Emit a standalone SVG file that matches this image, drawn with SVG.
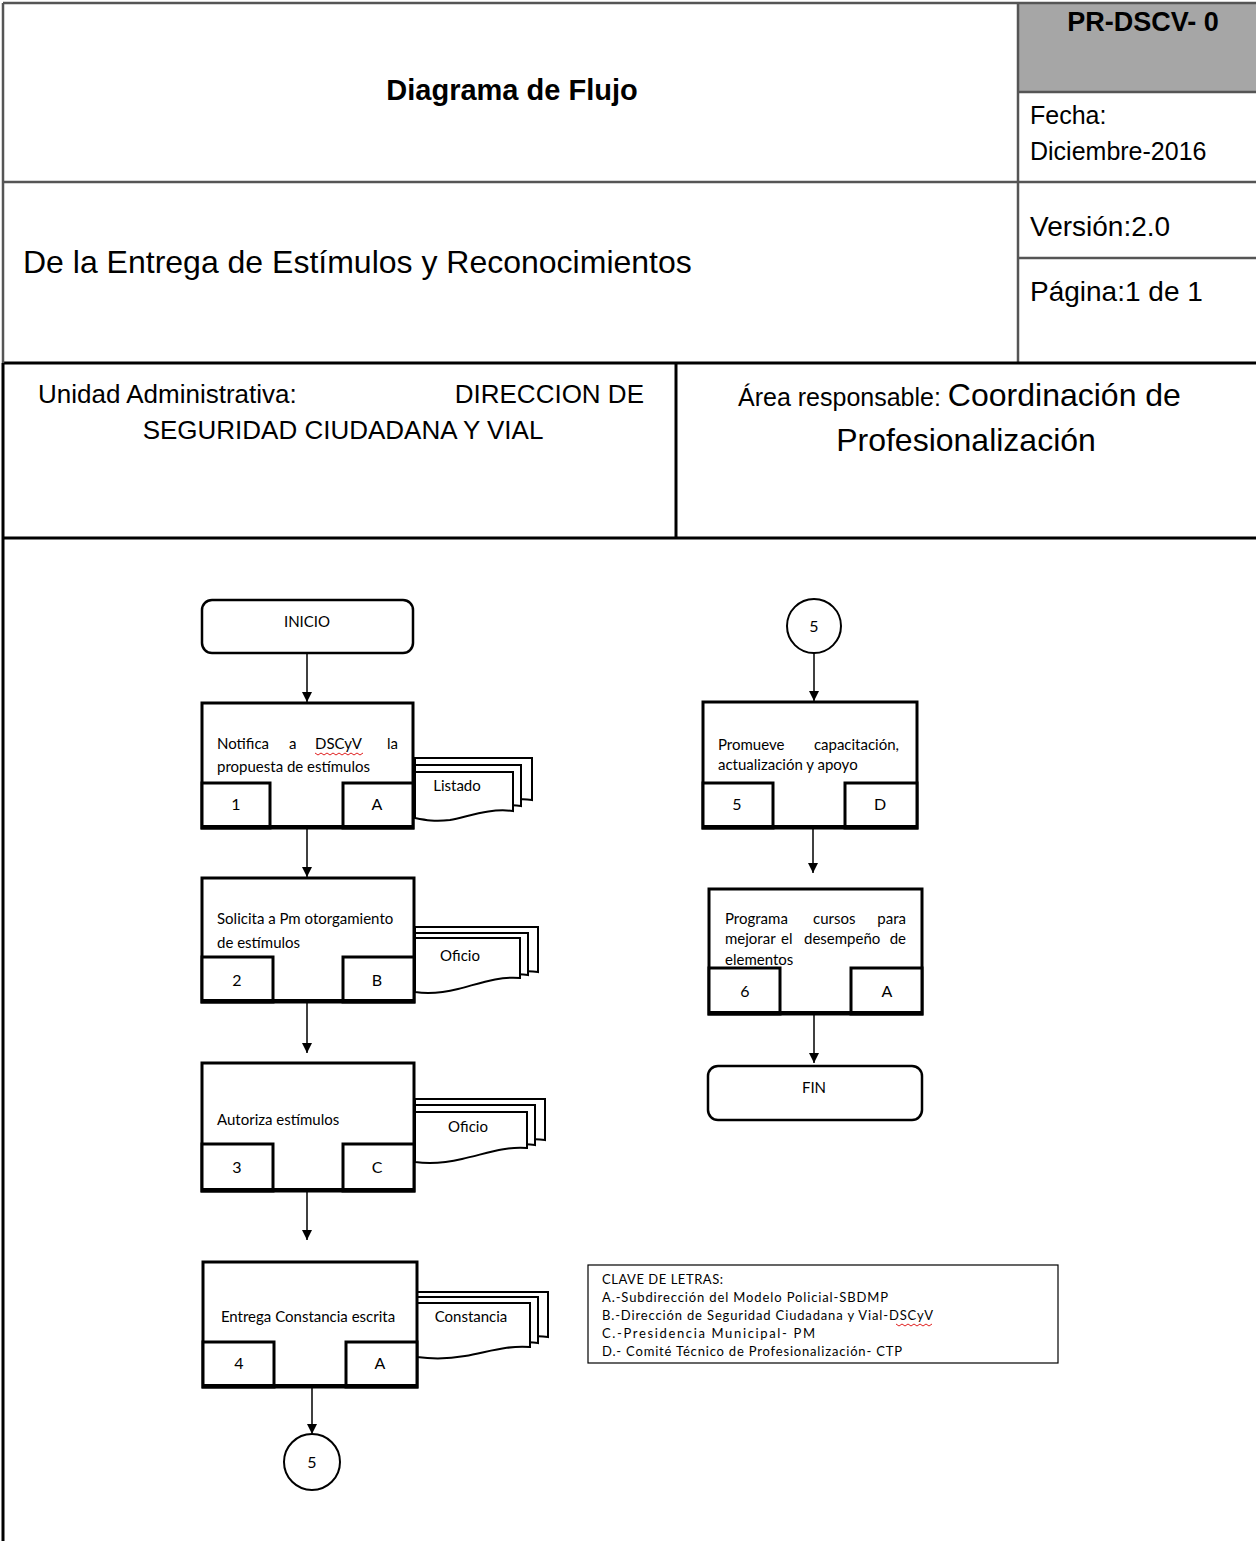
<svg xmlns="http://www.w3.org/2000/svg" width="1256" height="1541" viewBox="0 0 1256 1541">
<defs>
<style>
.hl{stroke:#555;stroke-width:2.5;fill:none}
.hk{stroke:#000;stroke-width:3;fill:none}
.ar{font-family:"Liberation Sans",Arial,sans-serif;fill:#000}
.b{font-weight:bold}
.fc{font-family:Lato,"Open Sans",sans-serif;fill:#000;font-size:15px}
.num{font-family:Lato,"Open Sans",sans-serif;fill:#000;font-size:16px;text-anchor:middle}
.box{fill:#fff;stroke:#000;stroke-width:3}
.sub{fill:#fff;stroke:#000;stroke-width:3}
.term{fill:#fff;stroke:#000;stroke-width:2.5}
.doc{fill:#fff;stroke:#000;stroke-width:2}
.con{stroke:#000;stroke-width:1.5;fill:none}
.circ{fill:#fff;stroke:#000;stroke-width:2}
.sq{stroke:#e02020;stroke-width:1;fill:none}
.lg{font-family:Lato,"Open Sans",sans-serif;fill:#000;font-size:13px}
</style>
<marker id="ah" viewBox="0 0 10 10" refX="10" refY="5" markerWidth="10" markerHeight="10" markerUnits="userSpaceOnUse" orient="auto">
<path d="M0,0 L10,5 L0,10 Z" fill="#000"/>
</marker>
</defs>
<rect width="1256" height="1541" fill="#fff"/>

<g id="header">
<rect x="1018" y="3" width="238" height="89" fill="#a6a6a6"/>
<line class="hl" x1="3" y1="3" x2="1256" y2="3"/>
<line class="hl" x1="1018" y1="92" x2="1256" y2="92"/>
<line class="hl" x1="3" y1="182" x2="1256" y2="182"/>
<line class="hl" x1="1018" y1="258" x2="1256" y2="258"/>
<line class="hl" x1="1018" y1="3" x2="1018" y2="363"/>
<line class="hk" x1="3" y1="363" x2="1256" y2="363"/>
<line class="hk" x1="676" y1="363" x2="676" y2="538"/>
<line class="hk" x1="3" y1="538" x2="1256" y2="538"/>
<line class="hl" x1="3" y1="3" x2="3" y2="363"/>
<line class="hk" x1="3" y1="363" x2="3" y2="1541"/>
<text class="ar b" x="512" y="100" font-size="29" text-anchor="middle">Diagrama de Flujo</text>
<text class="ar b" x="1143" y="31" font-size="27" text-anchor="middle">PR-DSCV- 0</text>
<text class="ar" x="1030" y="124" font-size="25">Fecha:</text>
<text class="ar" x="1030" y="160" font-size="25">Diciembre-2016</text>
<text class="ar" x="1030" y="236" font-size="28">Versión:2.0</text>
<text class="ar" x="1030" y="301" font-size="28">Página:1 de 1</text>
<text class="ar" x="23" y="273" font-size="32">De la Entrega de Estímulos y Reconocimientos</text>
<text class="ar" x="38" y="403" font-size="26">Unidad Administrativa:</text>
<text class="ar" x="644" y="403" font-size="26" text-anchor="end">DIRECCION DE</text>
<text class="ar" x="343" y="439" font-size="26" text-anchor="middle">SEGURIDAD CIUDADANA Y VIAL</text>
<text class="ar" x="738" y="406" font-size="25">Área responsable: <tspan font-size="32">Coordinación de</tspan></text>
<text class="ar" x="966" y="451" font-size="32" text-anchor="middle">Profesionalización</text>
</g>

<g id="connectors">
<line class="con" x1="307" y1="653" x2="307" y2="702" marker-end="url(#ah)"/>
<line class="con" x1="307" y1="828" x2="307" y2="877" marker-end="url(#ah)"/>
<line class="con" x1="307" y1="1002" x2="307" y2="1053" marker-end="url(#ah)"/>
<line class="con" x1="307" y1="1191" x2="307" y2="1240" marker-end="url(#ah)"/>
<line class="con" x1="312" y1="1387" x2="312" y2="1434" marker-end="url(#ah)"/>
<line class="con" x1="814" y1="653" x2="814" y2="701" marker-end="url(#ah)"/>
<line class="con" x1="813" y1="828" x2="813" y2="873" marker-end="url(#ah)"/>
<line class="con" x1="814" y1="1014" x2="814" y2="1063" marker-end="url(#ah)"/>
</g>

<g id="inicio">
<rect class="term" x="202" y="600" width="211" height="53" rx="10"/>
<text class="fc" x="307" y="627" text-anchor="middle">INICIO</text>
</g>

<g id="paso1">
<path class="doc" d="M415,758 H532 V800 C520,798 515,800 505,802 L415,810 Z"/>
<path class="doc" d="M415,765 H521 V806 C510,804 505,806 495,808 L415,815 Z"/>
<path class="doc" d="M415,772 H513 V811 C490,808 470,816 450,820 C435,822 425,820 415,818 Z"/>
<text class="fc" x="457" y="791" text-anchor="middle" font-size="13.5">Listado</text>
<rect class="box" x="202" y="703" width="211" height="125"/>
<rect class="sub" x="202" y="783" width="68" height="45"/>
<rect class="sub" x="343" y="783" width="70" height="45"/>
<line x1="202" y1="827" x2="413" y2="827" stroke="#000" stroke-width="4"/>
<text class="fc" y="749"><tspan x="217">Notifica</tspan><tspan x="289">a</tspan><tspan x="315">DSCyV</tspan></text>
<text class="fc" x="398" y="749" text-anchor="end">la</text>
<path class="sq" d="M315,753 l3,2 l3,-2 l3,2 l3,-2 l3,2 l3,-2 l3,2 l3,-2 l3,2 l3,-2 l3,2 l3,-2 l3,2 l3,-2 l3,2 l3,-2"/>
<text class="fc" x="217" y="772">propuesta de estímulos</text>
<text class="num" x="236" y="810">1</text>
<text class="num" x="377" y="810">A</text>
</g>

<g id="paso2">
<path class="doc" d="M415,927 H538 V972 C525,970 518,972 508,975 L415,985 Z"/>
<path class="doc" d="M415,933 H528 V975 C516,973 510,975 500,978 L415,988 Z"/>
<path class="doc" d="M415,938 H520 V978 C498,976 478,984 458,989 C442,993 428,994 415,992 Z"/>
<text class="fc" x="460" y="961" text-anchor="middle" font-size="13.5">Oficio</text>
<rect class="box" x="202" y="878" width="212" height="124"/>
<rect class="sub" x="202" y="957" width="71" height="45"/>
<rect class="sub" x="343" y="957" width="71" height="45"/>
<line x1="202" y1="1001" x2="414" y2="1001" stroke="#000" stroke-width="4"/>
<text class="fc" x="217" y="924">Solicita a Pm otorgamiento</text>
<text class="fc" x="217" y="948">de estímulos</text>
<text class="num" x="237" y="986">2</text>
<text class="num" x="377" y="986">B</text>
</g>

<g id="paso3">
<path class="doc" d="M415,1099 H545 V1140 C532,1138 525,1140 515,1143 L415,1152 Z"/>
<path class="doc" d="M415,1105 H535 V1145 C523,1143 516,1145 506,1148 L415,1157 Z"/>
<path class="doc" d="M415,1112 H527 V1148 C505,1146 485,1154 462,1159 C445,1163 430,1164 415,1162 Z"/>
<text class="fc" x="468" y="1132" text-anchor="middle" font-size="13.5">Oficio</text>
<rect class="box" x="202" y="1063" width="212" height="128"/>
<rect class="sub" x="202" y="1144" width="71" height="47"/>
<rect class="sub" x="343" y="1144" width="71" height="47"/>
<line x1="202" y1="1190" x2="414" y2="1190" stroke="#000" stroke-width="4"/>
<text class="fc" x="217" y="1125">Autoriza estímulos</text>
<text class="num" x="237" y="1173">3</text>
<text class="num" x="377" y="1173">C</text>
</g>

<g id="paso4">
<path class="doc" d="M417,1292 H548 V1337 C535,1335 528,1337 518,1340 L417,1349 Z"/>
<path class="doc" d="M417,1297 H538 V1343 C526,1341 519,1343 509,1346 L417,1354 Z"/>
<path class="doc" d="M417,1303 H530 V1347 C508,1345 488,1352 465,1356 C448,1359 432,1359 417,1357 Z"/>
<text class="fc" x="471" y="1322" text-anchor="middle" font-size="13">Constancia</text>
<rect class="box" x="203" y="1262" width="214" height="125"/>
<rect class="sub" x="203" y="1342" width="71" height="45"/>
<rect class="sub" x="346" y="1342" width="71" height="45"/>
<line x1="203" y1="1386" x2="417" y2="1386" stroke="#000" stroke-width="4"/>
<text class="fc" x="308" y="1322" text-anchor="middle">Entrega Constancia escrita</text>
<text class="num" x="239" y="1369">4</text>
<text class="num" x="380" y="1369">A</text>
</g>

<g id="conector5a">
<circle class="circ" cx="312" cy="1462" r="28"/>
<text class="num" x="312" y="1468">5</text>
</g>

<g id="conector5b">
<circle class="circ" cx="814" cy="626" r="27"/>
<text class="num" x="814" y="632">5</text>
</g>

<g id="paso5">
<rect class="box" x="703" y="702" width="214" height="126"/>
<rect class="sub" x="703" y="783" width="70" height="45"/>
<rect class="sub" x="845" y="783" width="72" height="45"/>
<line x1="703" y1="827" x2="917" y2="827" stroke="#000" stroke-width="4"/>
<text class="fc" x="718" y="750">Promueve</text>
<text class="fc" x="899" y="750" text-anchor="end">capacitación,</text>
<text class="fc" x="718" y="770">actualización y apoyo</text>
<text class="num" x="737" y="810">5</text>
<text class="num" x="880" y="810">D</text>
</g>

<g id="paso6">
<rect class="box" x="709" y="889" width="213" height="125"/>
<rect class="sub" x="709" y="968" width="71" height="46"/>
<rect class="sub" x="851" y="968" width="71" height="46"/>
<line x1="709" y1="1013" x2="922" y2="1013" stroke="#000" stroke-width="4"/>
<text class="fc" x="725" y="924">Programa</text>
<text class="fc" x="813" y="924">cursos</text>
<text class="fc" x="906" y="924" text-anchor="end">para</text>
<text class="fc" y="944"><tspan x="725">mejorar</tspan><tspan x="781">el</tspan><tspan x="804">desempeño</tspan></text>
<text class="fc" x="906" y="944" text-anchor="end">de</text>
<text class="fc" x="725" y="965">elementos</text>
<text class="num" x="745" y="997">6</text>
<text class="num" x="887" y="997">A</text>
</g>

<g id="fin">
<rect class="term" x="708" y="1066" width="214" height="54" rx="10"/>
<text class="fc" x="814" y="1093" text-anchor="middle">FIN</text>
</g>

<g id="clave">
<rect x="588" y="1265" width="470" height="98" fill="#fff" stroke="#000" stroke-width="1.2"/>
<text class="lg" x="602" y="1284" textLength="121" lengthAdjust="spacing">CLAVE DE LETRAS:</text>
<text class="lg" x="602" y="1302" textLength="286" lengthAdjust="spacing">A.-Subdirección del Modelo Policial-SBDMP</text>
<text class="lg" x="602" y="1320" textLength="331" lengthAdjust="spacing">B.-Dirección de Seguridad Ciudadana y Vial-DSCyV</text>
<path class="sq" d="M896,1324 l3,2 l3,-2 l3,2 l3,-2 l3,2 l3,-2 l3,2 l3,-2 l3,2 l3,-2 l3,2 l3,-2"/>
<text class="lg" x="602" y="1338" textLength="213" lengthAdjust="spacing">C.-Presidencia Municipal- PM</text>
<text class="lg" x="602" y="1356" textLength="300" lengthAdjust="spacing">D.- Comité Técnico de Profesionalización- CTP</text>
</g>
</svg>
